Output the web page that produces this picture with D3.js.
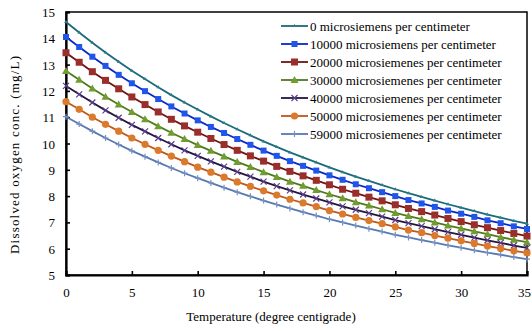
<!DOCTYPE html>
<html>
<head>
<meta charset="utf-8">
<script src="https://cdn.jsdelivr.net/npm/d3@7"></script>
<style>
  body { margin: 0; background: #fff; }
  svg { display: block; }
  svg text { font-family: "Liberation Serif", "Times New Roman", Times, serif; }
</style>
</head>
<body>
<svg id="chart" width="532" height="331"></svg>
<script>
// Temperature in degrees C, one point per degree.
const temps = d3.range(0, 36);

const seriesNames = [
  "0 microsiemens per centimeter",
  "10000 microsiemens per centimeter",
  "20000 microsiemenes per centimeter",
  "30000 microsiemenes per centimeter",
  "40000 microsiemenes per centimeter",
  "50000 microsiemenes per centimeter",
  "59000 microsiemenes per centimeter"
];

// Dissolved oxygen (mg/L).
const do0 = [14.62, 14.22, 13.83, 13.46, 13.11, 12.77, 12.45, 12.14, 11.84, 11.56, 11.29, 11.03, 10.78, 10.54, 10.31, 10.08, 9.87, 9.66, 9.47, 9.28, 9.09, 8.91, 8.74, 8.58, 8.42, 8.26, 8.11, 7.97, 7.83, 7.69, 7.56, 7.43, 7.30, 7.18, 7.06, 6.95];
const do10000 = [14.05, 13.67, 13.30, 12.95, 12.61, 12.29, 11.99, 11.69, 11.41, 11.14, 10.88, 10.63, 10.40, 10.17, 9.95, 9.73, 9.53, 9.33, 9.15, 8.97, 8.79, 8.62, 8.45, 8.30, 8.15, 8.00, 7.85, 7.72, 7.59, 7.45, 7.33, 7.21, 7.08, 6.97, 6.85, 6.75];
const do20000 = [13.45, 13.09, 12.73, 12.40, 12.08, 11.77, 11.48, 11.20, 10.92, 10.67, 10.43, 10.19, 9.96, 9.74, 9.53, 9.33, 9.13, 8.94, 8.77, 8.60, 8.43, 8.26, 8.11, 7.96, 7.82, 7.67, 7.53, 7.41, 7.28, 7.15, 7.03, 6.91, 6.80, 6.69, 6.58, 6.48];
const do30000 = [12.76, 12.42, 12.09, 11.78, 11.48, 11.20, 10.92, 10.66, 10.41, 10.17, 9.94, 9.72, 9.51, 9.30, 9.11, 8.91, 8.73, 8.55, 8.39, 8.23, 8.07, 7.92, 7.77, 7.64, 7.50, 7.36, 7.24, 7.12, 7.00, 6.88, 6.77, 6.66, 6.55, 6.44, 6.34, 6.25];
const do40000 = [12.19, 11.87, 11.56, 11.26, 10.98, 10.71, 10.46, 10.21, 9.97, 9.74, 9.53, 9.32, 9.12, 8.92, 8.74, 8.55, 8.38, 8.22, 8.06, 7.91, 7.76, 7.61, 7.48, 7.35, 7.22, 7.09, 6.97, 6.86, 6.74, 6.63, 6.53, 6.42, 6.32, 6.22, 6.12, 6.03];
const do50000 = [11.59, 11.30, 11.00, 10.73, 10.47, 10.21, 9.97, 9.74, 9.52, 9.31, 9.10, 8.91, 8.72, 8.54, 8.37, 8.20, 8.04, 7.88, 7.74, 7.60, 7.45, 7.32, 7.19, 7.07, 6.95, 6.83, 6.71, 6.61, 6.50, 6.40, 6.30, 6.20, 6.10, 6.01, 5.92, 5.84];
const do59000 = [11.02, 10.74, 10.47, 10.21, 9.96, 9.72, 9.50, 9.28, 9.07, 8.87, 8.68, 8.50, 8.32, 8.15, 7.99, 7.83, 7.68, 7.53, 7.39, 7.26, 7.12, 7.00, 6.88, 6.76, 6.65, 6.53, 6.43, 6.33, 6.23, 6.13, 6.04, 5.94, 5.85, 5.77, 5.68, 5.60];

const xTicks = [0, 5, 10, 15, 20, 25, 30, 35];
const yTicks = [5, 6, 7, 8, 9, 10, 11, 12, 13, 14, 15];

const styles = [
  { line: "#1B6A7A", fill: "#2A7E8C", marker: "tick" },
  { line: "#0A28C8", fill: "#1F55E8", marker: "square" },
  { line: "#701212", fill: "#9A2E2A", marker: "bigsquare" },
  { line: "#4E7A1C", fill: "#709C30", marker: "triangle" },
  { line: "#221640", fill: "#5C3F8C", marker: "cross" },
  { line: "#C0561A", fill: "#DA7A2A", marker: "circle" },
  { line: "#5878B0", fill: "#7390C4", marker: "plus" }
];

const allSeries = [do0, do10000, do20000, do30000, do40000, do50000, do59000];

const serif = "'Liberation Serif', 'Times New Roman', Times, serif";

const svg = d3.select("#chart");
const margin = { left: 66, right: 5, top: 12, bottom: 56 };
const width = 532 - margin.left - margin.right;
const height = 331 - margin.top - margin.bottom;

const x = d3.scaleLinear().domain([0, 35]).range([0, width]);
const y = d3.scaleLinear().domain([5, 15]).range([height, 0]);

const g = svg.append("g").attr("transform", `translate(${margin.left},${margin.top})`);

// Plot frame (top and right).
g.append("rect")
  .attr("width", width).attr("height", height)
  .attr("fill", "none").attr("stroke", "#000").attr("stroke-width", 1.5);

// Axes with inward ticks.
const xAxis = g.append("g")
  .attr("transform", `translate(0,${height})`)
  .call(d3.axisBottom(x).tickValues(xTicks).tickSize(-4).tickPadding(13).tickFormat(d3.format("d")));
const yAxis = g.append("g")
  .call(d3.axisLeft(y).tickValues(yTicks).tickSize(-4).tickPadding(11).tickFormat(d3.format("d")));

[xAxis, yAxis].forEach(a => {
  a.attr("font-family", serif);
  a.select(".domain").attr("stroke", "#000").attr("stroke-width", 2.2);
  a.selectAll(".tick line").attr("stroke", "#000").attr("stroke-width", 1.6);
  a.selectAll(".tick text").attr("font-size", 13).attr("font-family", serif).attr("fill", "#000");
});
yAxis.selectAll(".tick text").attr("dy", "0.35em");
// Last x label sits at the right edge; nudge it so it stays inside the picture.
xAxis.selectAll(".tick text").filter(d => d === 35).attr("dx", -3);

// Marker drawing helper.
function drawMarker(sel, kind, st) {
  if (kind === "square") {
    sel.append("rect").attr("x", -3).attr("y", -3).attr("width", 6).attr("height", 6).attr("fill", st.fill);
  } else if (kind === "bigsquare") {
    sel.append("rect").attr("x", -3.5).attr("y", -3.5).attr("width", 7).attr("height", 7).attr("fill", st.fill);
  } else if (kind === "triangle") {
    sel.append("path").attr("d", "M0,-4L4,3L-4,3Z").attr("fill", st.fill);
  } else if (kind === "circle") {
    sel.append("circle").attr("r", 3.6).attr("fill", st.fill);
  } else if (kind === "cross") {
    sel.append("path").attr("d", "M-3,-3L3,3M-3,3L3,-3").attr("stroke", st.fill).attr("stroke-width", 1.2);
  } else if (kind === "plus") {
    sel.append("path").attr("d", "M-3,0L3,0M0,-3L0,3").attr("stroke", st.fill).attr("stroke-width", 1.2);
  } else if (kind === "tick") {
    sel.append("path").attr("d", "M-2,1L0,-2L2,1Z").attr("fill", st.fill);
  }
}

const line = d3.line().x((d, i) => x(temps[i])).y(d => y(d));

allSeries.forEach((vals, si) => {
  const st = styles[si];
  const sg = g.append("g");
  sg.append("path")
    .attr("d", line(vals))
    .attr("fill", "none").attr("stroke", st.line).attr("stroke-width", 1.8);
  sg.selectAll("g.m")
    .data(vals)
    .join("g")
    .attr("class", "m")
    .attr("transform", (d, i) => `translate(${x(temps[i])},${y(d)})`)
    .each(function () { drawMarker(d3.select(this), st.marker, st); });
});

// Legend.
const legend = svg.append("g").attr("transform", "translate(281,26)");
seriesNames.forEach((name, i) => {
  const st = styles[i];
  const row = legend.append("g").attr("transform", `translate(0,${i * 18})`);
  row.append("line").attr("x1", 0).attr("x2", 27).attr("stroke", st.line).attr("stroke-width", 1.8);
  drawMarker(row.append("g").attr("transform", "translate(13.5,0)"), st.marker, st);
  row.append("text")
    .attr("x", 29).attr("dy", "0.35em")
    .attr("font-size", 13).attr("font-family", serif).attr("fill", "#000")
    .text(name);
});

// Axis titles.
svg.append("text")
  .attr("x", 271).attr("y", 321)
  .attr("text-anchor", "middle").attr("font-size", 13).attr("font-family", serif)
  .text("Temperature (degree centigrade)");

svg.append("text")
  .attr("transform", "translate(19,155) rotate(-90)")
  .attr("text-anchor", "middle").attr("font-size", 13).attr("font-family", serif)
  .attr("textLength", 198).attr("lengthAdjust", "spacing")
  .text("Dissolved oxygen conc. (mg/L)");
</script>
</body>
</html>
